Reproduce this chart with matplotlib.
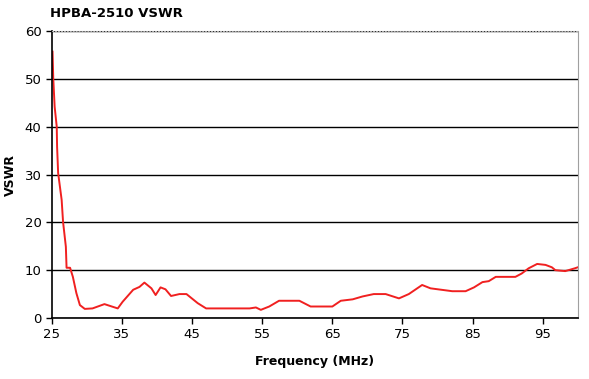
import numpy as np
import matplotlib.pyplot as plt

freq = [25.1, 25.2, 25.4, 25.7, 25.75, 25.9, 26.4, 26.6, 27.0, 27.1, 27.6, 28.0, 28.5,
        29.0, 29.7, 30.8, 32.5, 34.4, 35.1, 36.6, 37.5, 38.2, 39.2, 39.8, 40.5, 41.2,
        42.0, 43.2, 44.2, 45.8, 47.0, 53.2, 54.1, 54.8, 56.0, 57.4, 60.3, 61.9, 65.0,
        66.2, 67.9, 69.3, 70.9, 72.6, 74.5, 75.9, 77.8, 79.0, 82.1, 84.0, 85.2, 86.4,
        87.3, 88.3, 91.1, 92.0, 93.0, 94.2, 95.4, 96.3, 96.8, 98.2, 99.6, 100.0]
vswr = [55.7, 50.2, 44.2, 40.0, 35.8, 30.3, 24.7, 20.1, 14.9, 10.5, 10.5, 8.6, 5.2,
        2.7, 1.9, 2.0, 2.9, 2.0, 3.4, 5.9, 6.5, 7.4, 6.2, 4.8, 6.4, 6.0,
        4.6, 5.0, 5.0, 3.1, 2.0, 2.0, 2.2, 1.7, 2.4, 3.6, 3.6, 2.4, 2.4,
        3.6, 3.9, 4.5, 5.0, 5.0, 4.1, 5.0, 6.9, 6.2, 5.6, 5.6, 6.4, 7.5,
        7.7, 8.6, 8.6, 9.3, 10.4, 11.3, 11.1, 10.6, 10.0, 9.8, 10.4, 10.6]

fig = plt.figure(figsize=(5.89, 3.79), dpi=100)
ax = fig.add_axes([0.088, 0.161, 0.893, 0.757])
ax.plot(freq, vswr, color='#f02020', linewidth=1.4)
ax.set_xlim(25, 100)
ax.set_ylim(0, 60)
ax.set_xticks(np.arange(25, 100, 10))
ax.set_yticks(np.arange(0, 61, 10))
ax.yaxis.grid(True, color='black', linewidth=1)
ax.set_axisbelow(True)
ax.spines['top'].set_color('#b0b0b0')
ax.spines['top'].set_linestyle(':')
ax.spines['right'].set_color('#a0a0a0')
for s in ['left', 'bottom']:
    ax.spines[s].set_linewidth(1.2)
ax.tick_params(labelsize=9.5, length=4, width=1)
ax.set_xlabel('Frequency (MHz)', fontsize=9, fontweight='bold', labelpad=10)
ax.set_ylabel('VSWR', fontsize=9, fontweight='bold')
ax.yaxis.set_label_coords(-0.066, 0.5)
fig.text(0.085, 0.965, 'HPBA-2510 VSWR', fontsize=9.5, fontweight='bold', va='center')
fig.savefig('out.png', dpi=100)
